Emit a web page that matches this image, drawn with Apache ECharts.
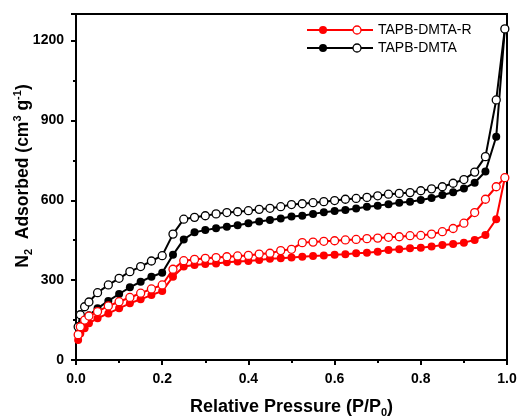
<!DOCTYPE html>
<html>
<head>
<meta charset="utf-8">
<script src="https://cdn.jsdelivr.net/npm/echarts@6/dist/echarts.min.js"></script>
<style>
  html, body { margin: 0; padding: 0; background: #fff; }
  #chart { width: 518px; height: 417px; }
</style>
</head>
<body>
<div id="chart"></div>
<script>
// relative pressure points (same for both branches)
const pressure = [0.005, 0.01, 0.02, 0.03, 0.05, 0.075, 0.1, 0.125, 0.15, 0.175, 0.2, 0.225, 0.25, 0.275, 0.3,
  0.325, 0.35, 0.375, 0.4, 0.425, 0.45, 0.475, 0.5, 0.525, 0.55, 0.575, 0.6, 0.625, 0.65, 0.675, 0.7,
  0.725, 0.75, 0.775, 0.8, 0.825, 0.85, 0.875, 0.9, 0.925, 0.95, 0.975, 0.995];

// TAPB-DMTA
const dmtaAds = [95, 130, 155, 168, 194, 222, 248, 273, 294, 313, 328, 395, 453, 480, 488, 495, 501, 506, 514, 520,
  526, 532, 539, 542, 549, 555, 560, 564, 569, 576, 580, 585, 591, 595, 601, 609, 620, 630, 644, 666, 708, 839, 1244];
const dmtaDes = [125, 170, 200, 218, 253, 282, 307, 332, 351, 372, 392, 473, 529, 536, 542, 549, 554, 557, 561, 566,
  570, 576, 584, 587, 591, 595, 599, 604, 607, 611, 617, 623, 626, 629, 636, 643, 651, 664, 678, 706, 764, 977, 1244];

// TAPB-DMTA-R
const dmtaRAds = [75, 100, 119, 138, 157, 175, 194, 213, 228, 244, 259, 313, 351, 357, 361, 363, 367, 370, 372, 376,
  380, 382, 385, 388, 391, 393, 395, 397, 401, 403, 407, 413, 416, 420, 422, 426, 432, 436, 441, 451, 470, 529, 685];
const dmtaRDes = [95, 125, 150, 165, 182, 203, 219, 235, 251, 267, 282, 341, 373, 378, 382, 385, 388, 391, 393, 398,
  401, 411, 416, 441, 443, 446, 448, 451, 453, 456, 458, 461, 463, 467, 468, 473, 482, 494, 514, 554, 604, 651, 685];

const legendNames = ['TAPB-DMTA-R', 'TAPB-DMTA'];
const legendColors = ['#ff0000', '#000000'];

function pairs(ys) {
  return pressure.map((p, i) => [p, ys[i]]);
}

function makeSeries(name, ys, color, open) {
  return {
    name: name,
    type: 'line',
    data: pairs(ys),
    symbol: 'circle',
    symbolSize: 8,
    lineStyle: { color: color, width: 2 },
    itemStyle: open
      ? { color: '#fff', borderColor: color, borderWidth: 1.3 }
      : { color: color, borderColor: color, borderWidth: 0 },
    animation: false,
    z: open ? 3 : 2,
  };
}

const font = 'Arial, "Liberation Sans", sans-serif';
const bold = { fontFamily: font, fontWeight: 'bold', color: '#000' };

// legend built by hand: line, filled dot, open dot, label
let legendGraphics = [];
for (let i = 0; i < legendNames.length; i++) {
  let y = 30 + i * 18;
  legendGraphics.push(
    { type: 'line', shape: { x1: 307, y1: y, x2: 373, y2: y }, style: { stroke: legendColors[i], lineWidth: 2 } },
    { type: 'circle', shape: { cx: 323, cy: y, r: 4 }, style: { fill: legendColors[i] } },
    { type: 'circle', shape: { cx: 357, cy: y, r: 4 }, style: { fill: '#fff', stroke: legendColors[i], lineWidth: 1.3 } },
    { type: 'text', x: 378, y: y, style: { text: legendNames[i], fontFamily: font, fontSize: 14, fill: '#000', verticalAlign: 'middle' } }
  );
}

const chart = echarts.init(document.getElementById('chart'), null, { renderer: 'canvas' });
chart.setOption({
  backgroundColor: '#fff',
  animation: false,
  grid: {
    left: 76, right: 11, top: 14, bottom: 57,
    outerBoundsMode: 'none', containLabel: false,
    show: true, borderColor: '#000', borderWidth: 2,
  },
  xAxis: {
    type: 'value',
    min: 0,
    max: 1,
    interval: 0.2,
    name: '{b|Relative Pressure (P/P}{s|0}{b|)}',
    nameLocation: 'middle',
    nameGap: 36,
    nameMoveOverlap: false,
    nameTextStyle: {
      rich: {
        b: Object.assign({ fontSize: 18, lineHeight: 22 }, bold),
        s: Object.assign({ fontSize: 11, lineHeight: 11, verticalAlign: 'bottom' }, bold),
      },
    },
    axisLine: { lineStyle: { color: '#000', width: 2 } },
    axisTick: { length: 5, lineStyle: { width: 2 } },
    minorTick: { show: true, splitNumber: 2, length: 3, lineStyle: { color: '#000', width: 2 } },
    splitLine: { show: false },
    axisLabel: Object.assign({ fontSize: 14, margin: 12, formatter: (v) => v.toFixed(1) }, bold),
  },
  yAxis: {
    type: 'value',
    min: 0,
    max: 1300,
    interval: 300,
    name: '{b|N}{s|2}{b|  Adsorbed (cm}{p|3}{b| g}{p|-1}{b|)}',
    nameLocation: 'middle',
    nameGap: 42,
    nameMoveOverlap: false,
    nameTextStyle: {
      padding: [0, 0, 0, 22],
      rich: {
        b: Object.assign({ fontSize: 17.5, lineHeight: 22 }, bold),
        s: Object.assign({ fontSize: 11, lineHeight: 11, verticalAlign: 'bottom' }, bold),
        p: Object.assign({ fontSize: 11, lineHeight: 11, verticalAlign: 'top' }, bold),
      },
    },
    axisLine: { show: true, lineStyle: { color: '#000', width: 2 } },
    axisTick: { show: true, length: 5, lineStyle: { width: 2 } },
    minorTick: { show: true, splitNumber: 2, length: 3, lineStyle: { color: '#000', width: 2 } },
    splitLine: { show: false },
    axisLabel: Object.assign({ fontSize: 14, margin: 12, showMaxLabel: false, formatter: (v) => String(v) }, bold),
  },
  series: [
    makeSeries('TAPB-DMTA ads', dmtaAds, '#000', false),
    makeSeries('TAPB-DMTA des', dmtaDes, '#000', true),
    makeSeries('TAPB-DMTA-R ads', dmtaRAds, '#ff0000', false),
    makeSeries('TAPB-DMTA-R des', dmtaRDes, '#ff0000', true),
  ],
  graphic: legendGraphics,
});
</script>
</body>
</html>
